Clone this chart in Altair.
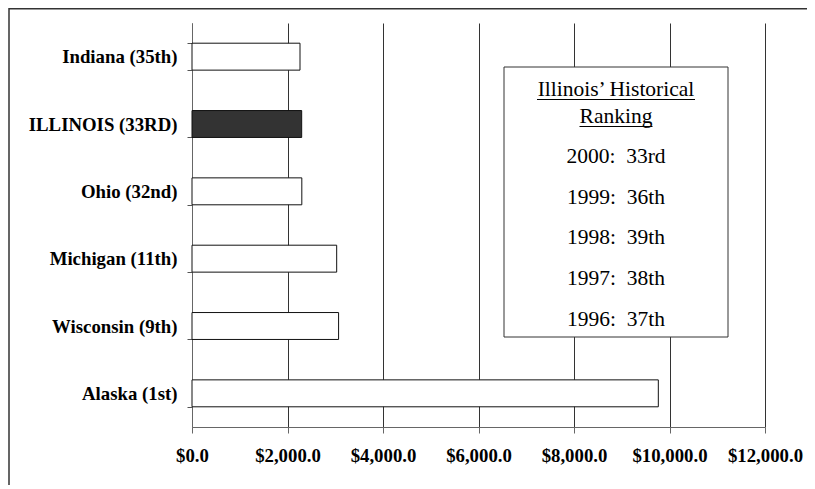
import altair as alt
import pandas as pd

# ---- data ----
states = ["Indiana (35th)", "ILLINOIS (33RD)", "Ohio (32nd)", "Michigan (11th)", "Wisconsin (9th)", "Alaska (1st)"]
values = [2262, 2297, 2300, 3030, 3070, 9766]
highlight = "ILLINOIS (33RD)"
rank_years = [2000, 1999, 1998, 1997, 1996]
rank_labels = ["33rd", "36th", "39th", "38th", "37th"]
box_title = ["Illinois\u2019 Historical", "Ranking"]

df = pd.DataFrame({"state": states, "value": values})
one = pd.DataFrame({"k": [0]})

W, H = 573, 404
FONT = "Liberation Serif"

bars = alt.Chart(df).mark_bar(stroke="#111", strokeWidth=1).encode(
    x=alt.X("value:Q",
            scale=alt.Scale(domain=[0, 12000], nice=False),
            axis=alt.Axis(values=list(range(0, 12001, 2000)), format="$,.1f", title=None,
                          grid=True, gridColor="#333", gridWidth=1, gridOpacity=1,
                          domainColor="#666", tickColor="#666", tickSize=6,
                          labelFont=FONT, labelFontWeight="bold", labelFontSize=18.8,
                          labelColor="#000", labelPadding=13, labelFlush=False)),
    y=alt.Y("state:N", sort=states,
            scale=alt.Scale(paddingInner=0.6, paddingOuter=0.3),
            axis=alt.Axis(title=None, tickBand="extent", tickSize=5, tickColor="#555",
                          domainColor="#666", labelFont=FONT, labelFontWeight="bold",
                          labelFontSize=18.8, labelColor="#000", labelPadding=10)),
    color=alt.condition(alt.datum.state == highlight, alt.value("#333333"), alt.value("white")),
)

# annotation box (pixel positions relative to plot area)
BX0, BX1, BY0, BY1 = 312, 536, 44, 314
CX = (BX0 + BX1) / 2
box = alt.Chart(one).mark_rect(fill="white", stroke="#333", strokeWidth=1).encode(
    x=alt.value(BX0), x2=alt.value(BX1), y=alt.value(BY0), y2=alt.value(BY1))

layers = [bars, box]
TS = 21.5
head_y = [73, 100]
head_w = [158, 73]
for i, t in enumerate(box_title):
    layers.append(alt.Chart(one).mark_text(text=t, font=FONT, fontSize=TS, color="#000",
                                           align="center", baseline="alphabetic").encode(
        x=alt.value(CX), y=alt.value(head_y[i])))
    layers.append(alt.Chart(one).mark_rule(color="#000", strokeWidth=1.2).encode(
        x=alt.value(CX - head_w[i] / 2), x2=alt.value(CX + head_w[i] / 2),
        y=alt.value(head_y[i] + 3.5)))

for i, (yr, rk) in enumerate(zip(rank_years, rank_labels)):
    layers.append(alt.Chart(one).mark_text(text=f"{yr}:\u00a0\u00a0{rk}", font=FONT, fontSize=TS,
                                           color="#000", align="center", baseline="alphabetic").encode(
        x=alt.value(CX), y=alt.value(140 + i * 40.7)))

# outer frame
frame = alt.Chart(one).mark_rect(fill=None, stroke="#333", strokeWidth=1.5).encode(
    x=alt.value(-183), x2=alt.value(700), y=alt.value(-14.2), y2=alt.value(520))
layers.append(frame)

chart = alt.layer(*layers).properties(
    width=W, height=H,
    autosize=alt.AutoSizeParams(type="none"),
    padding={"left": 184, "top": 15, "right": 42, "bottom": 58},
    background="white",
).configure_view(stroke=None)

chart.save("out.html", embed_options={"renderer": "svg", "actions": False})
